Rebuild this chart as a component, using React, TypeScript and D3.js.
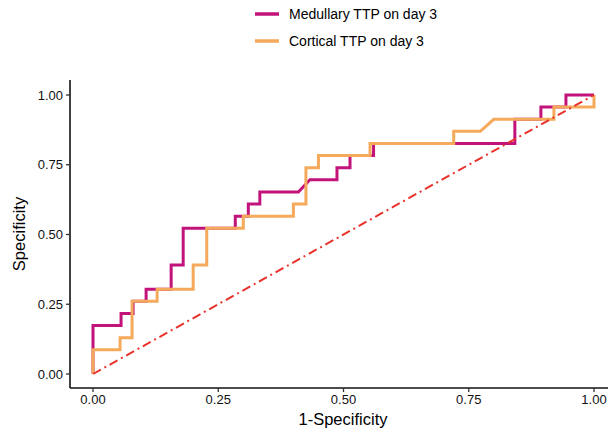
import React from "react";
import * as d3 from "d3";

const seriesNames = ["Medullary TTP on day 3", "Cortical TTP on day 3"];
const seriesColors = ["#C2137B", "#F4A95B"];

// ROC corner points: [1-Specificity, Specificity]
const medullaryX = [0, 0, 0.056, 0.056, 0.08, 0.08, 0.106, 0.106, 0.156, 0.156, 0.18, 0.18, 0.284, 0.284, 0.31, 0.31, 0.333, 0.333, 0.41, 0.433, 0.487, 0.487, 0.513, 0.513, 0.56, 0.56, 0.842, 0.842, 0.894, 0.894, 0.944, 0.944, 1];
const medullaryY = [0, 0.174, 0.174, 0.217, 0.217, 0.261, 0.261, 0.304, 0.304, 0.391, 0.391, 0.522, 0.522, 0.565, 0.565, 0.609, 0.609, 0.652, 0.652, 0.696, 0.696, 0.739, 0.739, 0.783, 0.783, 0.826, 0.826, 0.913, 0.913, 0.957, 0.957, 1, 1];

const corticalX = [0, 0, 0.054, 0.054, 0.078, 0.078, 0.128, 0.128, 0.2, 0.2, 0.227, 0.227, 0.3, 0.3, 0.4, 0.4, 0.425, 0.425, 0.45, 0.45, 0.553, 0.553, 0.72, 0.72, 0.773, 0.8, 0.92, 0.92, 1, 1];
const corticalY = [0, 0.087, 0.087, 0.13, 0.13, 0.261, 0.261, 0.304, 0.304, 0.391, 0.391, 0.522, 0.522, 0.565, 0.565, 0.609, 0.609, 0.739, 0.739, 0.783, 0.783, 0.826, 0.826, 0.87, 0.87, 0.913, 0.913, 0.957, 0.957, 1];

const diagX = [0, 1];
const diagY = [0, 1];

const tickValues = [0, 0.25, 0.5, 0.75, 1];
const tickLabels = ["0.00", "0.25", "0.50", "0.75", "1.00"];

const FONT = "Arial, 'Liberation Sans', Helvetica, sans-serif";

export default function App() {
  const W = 608, H = 433;
  const x = d3.scaleLinear().domain([0, 1]).range([93, 594]);
  const y = d3.scaleLinear().domain([0, 1]).range([374, 95]);
  const axisLeftX = 70;
  const axisBottomY = 388;

  const line = d3.line<[number, number]>().x(d => x(d[0])).y(d => y(d[1]));
  const med = medullaryX.map((v, i) => [v, medullaryY[i]] as [number, number]);
  const cor = corticalX.map((v, i) => [v, corticalY[i]] as [number, number]);
  const diag = diagX.map((v, i) => [v, diagY[i]] as [number, number]);

  return (
    <svg width={W} height={H} style={{ position: "absolute", left: 0, top: 0, background: "#fff" }} fontFamily={FONT}>
      <rect width={W} height={H} fill="#fff" />
      {/* legend */}
      {seriesNames.map((n, i) => (
        <g key={n} transform={`translate(0,${14 + i * 27})`}>
          <line x1={255} x2={279} y1={0} y2={0} stroke={seriesColors[i]} strokeWidth={3.5} />
          <text x={289} y={0} dy="0.35em" fontSize={14} fill="#000">{n}</text>
        </g>
      ))}
      {/* curves */}
      <path d={line(med) || ""} fill="none" stroke={seriesColors[0]} strokeWidth={3} strokeLinejoin="miter" />
      <path d={line(cor) || ""} fill="none" stroke={seriesColors[1]} strokeWidth={3} strokeLinejoin="miter" />
      <path d={line(diag) || ""} fill="none" stroke="#E8322B" strokeWidth={2} strokeDasharray="9,4,2,4" />
      {/* axes */}
      <line x1={axisLeftX} x2={axisLeftX} y1={80} y2={axisBottomY} stroke="#111" strokeWidth={1.6} />
      <line x1={axisLeftX} x2={608} y1={axisBottomY} y2={axisBottomY} stroke="#111" strokeWidth={1.6} />
      {tickValues.map((t, i) => (
        <g key={"y" + t}>
          <line x1={axisLeftX - 4} x2={axisLeftX} y1={y(t)} y2={y(t)} stroke="#333" strokeWidth={1.3} />
          <text x={axisLeftX - 7} y={y(t)} dy="0.35em" textAnchor="end" fontSize={13} fill="#111">{tickLabels[i]}</text>
        </g>
      ))}
      {tickValues.map((t, i) => (
        <g key={"x" + t}>
          <line x1={x(t)} x2={x(t)} y1={axisBottomY} y2={axisBottomY + 4} stroke="#333" strokeWidth={1.3} />
          <text x={x(t)} y={axisBottomY + 16} textAnchor="middle" fontSize={13} fill="#111">{tickLabels[i]}</text>
        </g>
      ))}
      <text x={343} y={425} textAnchor="middle" fontSize={16.5} fill="#000">1-Specificity</text>
      <text transform={`translate(25,${234}) rotate(-90)`} textAnchor="middle" fontSize={16.5} fill="#000">Specificity</text>
    </svg>
  );
}
